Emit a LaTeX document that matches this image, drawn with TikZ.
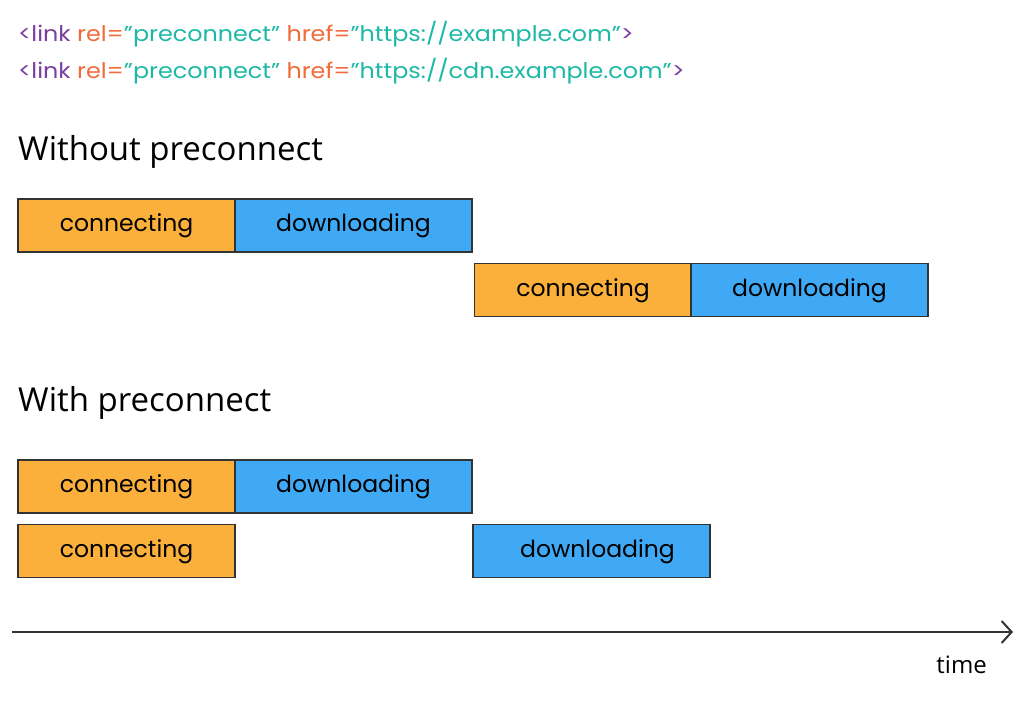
\documentclass[tikz,border=0pt]{standalone}
\usepackage{fontspec}
\setmainfont{Open Sans}
\newfontfamily\labfont{Poppins}
\newfontfamily\codefont[FakeStretch=1.11]{Poppins}
\usetikzlibrary{arrows.meta}
\definecolor{conn}{HTML}{FBB03B}
\definecolor{down}{HTML}{3FA9F5}
\definecolor{edge}{HTML}{333333}
\definecolor{cpurple}{HTML}{7B3FA0}
\definecolor{corange}{HTML}{F26B3A}
\definecolor{cteal}{HTML}{1DB9A6}
\tikzset{
  bar/.style={draw=edge, line width=1.5pt, minimum height=53pt, inner sep=0pt, text height=18pt, text depth=5.6pt, font=\labfont\fontsize{23.5}{28}\selectfont, text=black},
  connbar/.style={bar, fill=conn, minimum width=217pt},
  downbar/.style={bar, fill=down, minimum width=237pt},
  heading/.style={anchor=base west, inner sep=0pt, font=\fontsize{33}{38}\selectfont, text=black},
  codeline/.style={anchor=base west, inner sep=0pt, font=\codefont\fontsize{21.5}{26}\selectfont},
}
\begin{document}
\begin{tikzpicture}[x=1pt,y=-1pt]
\useasboundingbox[fill=white] (0,0) rectangle (1023,701);
\node[codeline] (code1) at (18,42) {\textcolor{cpurple}{<link} \textcolor{corange}{rel=}\textcolor{cteal}{”preconnect”} \textcolor{corange}{href=}\textcolor{cteal}{”https://example.com”}\textcolor{cpurple}{>}};
\node[codeline] (code2) at (18,79) {\textcolor{cpurple}{<link} \textcolor{corange}{rel=}\textcolor{cteal}{”preconnect”} \textcolor{corange}{href=}\textcolor{cteal}{”https://cdn.example.com”}\textcolor{cpurple}{>}};
\node[heading] (h1) at (18,160) {Without preconnect};
\node[heading] (h2) at (18,411) {With preconnect};
% without
\node[connbar] (c1) at (126.5,225.5) {connecting};
\node[downbar] (d1) at (353.5,225.5) {downloading};
\node[connbar] (c2) at (583,290) {connecting};
\node[downbar] (d2) at (809.5,290) {downloading};
% with
\node[connbar] (c3) at (126.5,486.5) {connecting};
\node[downbar] (d3) at (353.5,486.5) {downloading};
\node[connbar] (c4) at (126.5,551) {connecting};
\node[downbar] (d4) at (591.5,551) {\hspace*{12pt}downloading};
% axis
\coordinate (a0) at (12,632);
\coordinate (a1) at (1013,632);
\draw[edge, line width=2pt, -{Straight Barb[length=10pt,width=22pt,line width=2pt]}] (a0) -- (a1);
\node[anchor=base east, inner sep=0pt, font=\fontsize{24}{28}\selectfont] (t) at (987,673) {time};
\end{tikzpicture}
\end{document}
